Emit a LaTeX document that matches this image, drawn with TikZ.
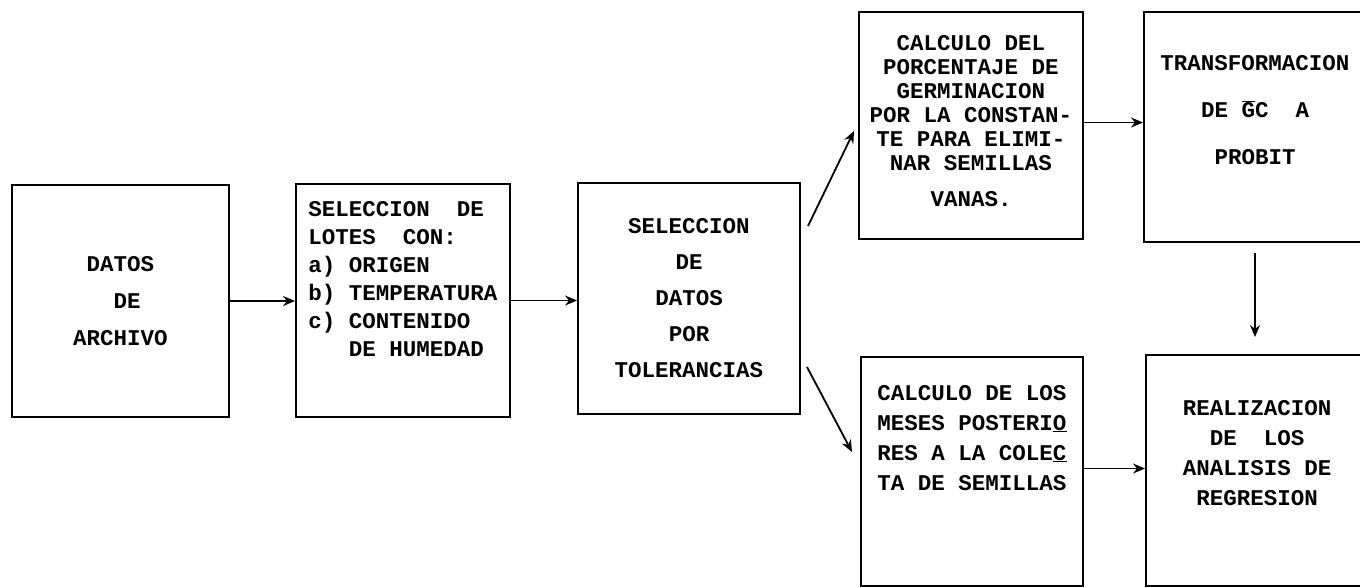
\documentclass[tikz,border=0pt]{standalone}
\usepackage{fontspec}
\setmonofont{Liberation Mono}
\usetikzlibrary{arrows.meta,positioning,calc}
\tikzset{
    % Define standard node styles
    stagebox/.style={
        rectangle, draw=black, line width=2pt, fill=white,
        minimum width=222pt, minimum height=230pt, inner sep=4pt,
        align=center, font=\ttfamily\bfseries\fontsize{22.5}{#1}\selectfont
    },
    stagebox/.default=28,
    arrow/.style={
        -{Stealth[length=12pt,width=10pt]}, line width=1.8pt, color=black
    }
}
\begin{document}
\begin{tikzpicture}[x=1pt, y=-1pt]
\useasboundingbox (0,0) rectangle (1360,587);

\node[stagebox=37, minimum width=217pt, minimum height=232pt] (datos) at (120.5,301)
    {DATOS\\~DE\\ARCHIVO};
\node[stagebox=28, minimum width=214pt, minimum height=233pt, align=left] (lotes) at (403,300.5)
    {SELECCION~~DE\\LOTES~~CON:\\a)~ORIGEN\\b)~TEMPERATURA\\c)~CONTENIDO\\~~~DE~HUMEDAD\\[16pt]\mbox{}};
\node[stagebox=36, minimum height=231pt] (toler) at (689,298.5)
    {SELECCION\\DE\\DATOS\\POR\\TOLERANCIAS};
\node[stagebox=24, minimum width=224pt, minimum height=227pt] (germ) at (971,125.5)
    {CALCULO DEL\\PORCENTAJE DE\\GERMINACION\\POR LA CONSTAN-\\TE PARA ELIMI-\\NAR SEMILLAS\\[12pt]VANAS.\\[-14pt]\mbox{}};
\node[stagebox=47] (probit) at (1255,127)
    {TRANSFORMACION\\DE~$\overline{\mbox{G}}$C~~A\\PROBIT\\[-13pt]\mbox{}};
\node[stagebox=30, minimum height=229pt] (meses) at (972,471.5)
    {CALCULO DE LOS\\MESES POSTERI\underline{O}\\RES A LA COLE\underline{C}\\TA DE SEMILLAS\\[38pt]\mbox{}};
\node[stagebox=30, minimum height=231pt] (regre) at (1257,470.5)
    {REALIZACION\\DE~~LOS\\ANALISIS DE\\REGRESION\\[6pt]\mbox{}};

\draw[arrow] (datos.east) -- (datos.east -| lotes.west);
\draw[arrow] (lotes.east) -- (lotes.east -| toler.west);
\draw[arrow] ([xshift=7pt,yshift=-44pt]toler.north east) -- ([xshift=-4pt,yshift=-120pt]germ.north west);
\draw[arrow] ([xshift=6pt,yshift=48pt]toler.south east) -- ([xshift=-8pt,yshift=-96pt]meses.north west);
\draw[arrow] ([yshift=3pt]germ.east) -- ([yshift=3pt]germ.east -| probit.west);
\draw[arrow, shorten <=10pt, shorten >=17pt] (probit.south) -- (probit.south |- regre.north);
\draw[arrow] ([yshift=3pt]meses.east) -- ([yshift=3pt]meses.east -| regre.west);

\end{tikzpicture}
\end{document}
